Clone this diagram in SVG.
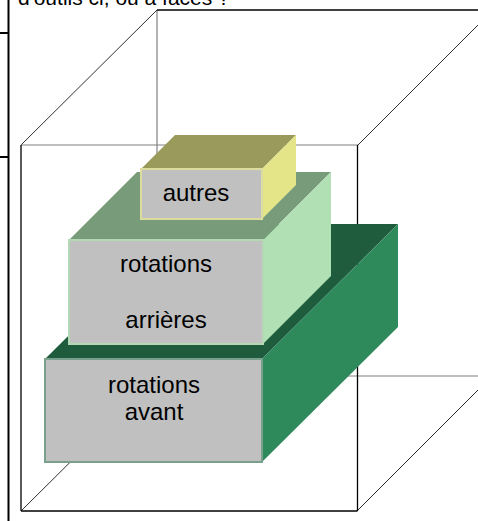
<svg xmlns="http://www.w3.org/2000/svg" width="478" height="521" viewBox="0 0 478 521">
<style>
.t{font-family:"Liberation Sans",Arial,sans-serif;font-size:24px;fill:#000;text-anchor:middle}
.back{stroke:#808080;stroke-width:1.2;fill:none}
.diag{stroke:#303030;stroke-width:1;fill:none}
.front{stroke:#000;stroke-width:1.3;fill:none}
.face{fill:#c0c0c0}
</style>
<rect width="478" height="521" fill="#fff"/>
<g id="page-frame">
<line x1="8.5" y1="0" x2="8.5" y2="521" stroke="#000" stroke-width="2"/>
<line x1="0" y1="33" x2="8.5" y2="33" stroke="#000" stroke-width="2"/>
<line x1="0" y1="157" x2="8.5" y2="157" stroke="#000" stroke-width="2"/>
<text x="18" y="5" style="font-family:'Liberation Sans',Arial,sans-serif;font-size:21px">d'outils ci, ou à faces  ?</text>
</g>
<g id="cube">
<line class="back" x1="157" y1="10" x2="157" y2="376"/>
<line class="back" x1="157" y1="376" x2="478" y2="376"/>
<line class="front" x1="157" y1="10" x2="478" y2="10"/>
<line class="diag" x1="21" y1="145" x2="157" y2="10"/>
<line class="diag" x1="358" y1="145" x2="479" y2="24"/>
<line class="diag" x1="21" y1="511" x2="157" y2="376"/>
<line class="diag" x1="357" y1="511" x2="478" y2="390"/>
<line class="back" x1="21" y1="145" x2="358" y2="145"/>
<line class="front" x1="21" y1="145" x2="21" y2="511"/>
<line class="front" x1="357.5" y1="145" x2="357.5" y2="511"/>
<line class="front" x1="21" y1="511" x2="357.5" y2="511"/>
</g>
<g id="rotations-avant">
<polygon points="45,359 262,359 398,224 181,224" fill="#1f5c3e"/>
<polygon points="262,359 398,224 398,327 262,462" fill="#2e8a5a"/>
<rect class="face" x="45" y="359" width="217" height="103" stroke="#78a08c" stroke-width="2"/>
<text class="t" x="154" y="393">rotations</text>
<text class="t" x="154" y="420">avant</text>
</g>
<g id="rotations-arrieres">
<polygon points="69,240 263,240 331,172 137,172" fill="#789c7a"/>
<polygon points="263,240 331,172 331,276 263,344" fill="#b0e0b4"/>
<rect class="face" x="69" y="240" width="194" height="104" stroke="#b4d8b4" stroke-width="2"/>
<text class="t" x="166" y="272">rotations</text>
<text class="t" x="166" y="328">arrières</text>
</g>
<g id="autres">
<polygon points="141,169 262,169 296,135 175,135" fill="#9a9a5c"/>
<polygon points="262,169 296,135 296,185 262,219" fill="#e4e488"/>
<rect class="face" x="141" y="169" width="121" height="50" stroke="#dcdca0" stroke-width="2"/>
<text class="t" x="196" y="201">autres</text>
</g>
</svg>
